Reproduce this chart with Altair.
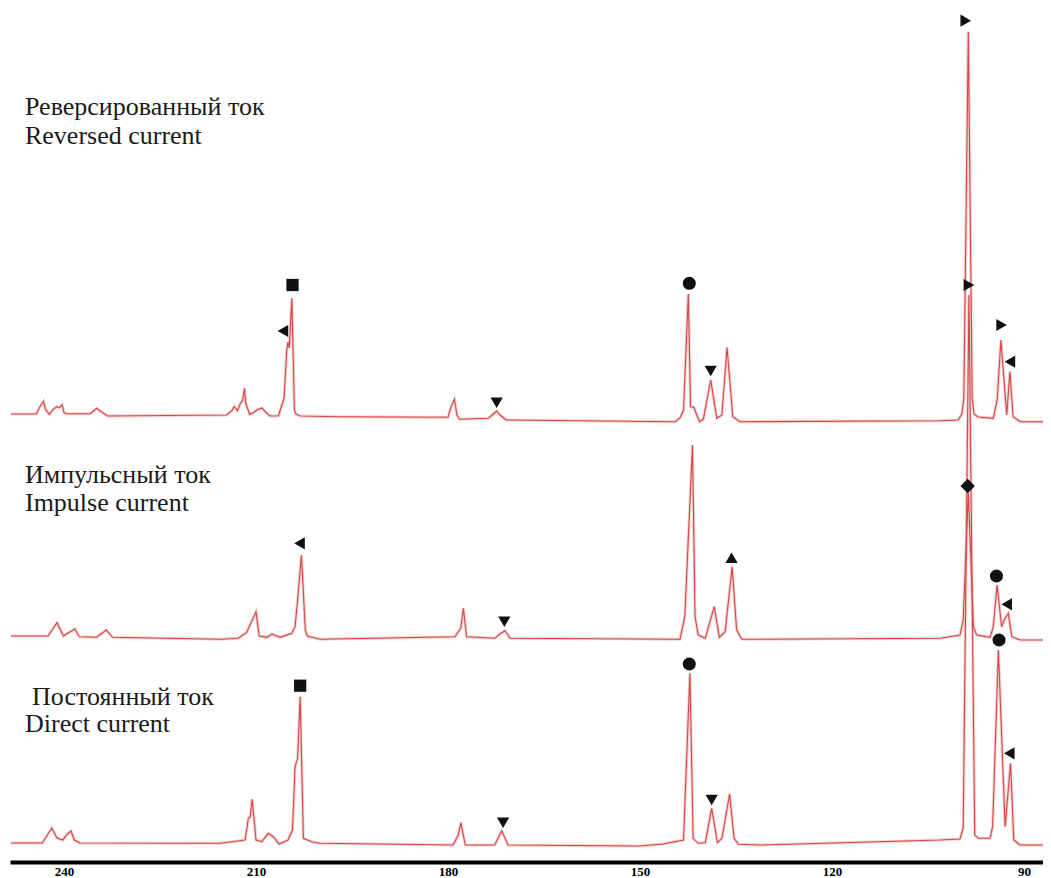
import altair as alt
import pandas as pd

# ---- spectra: x position (axis units) and intensity above each trace's own baseline ----
rev_x = [248.3, 244.3, 243.9, 243.2, 242.9, 242.3, 241.7, 241.1, 240.7, 240.3, 240.0, 239.6,
         235.9, 234.9, 234.4, 233.2, 214.6, 213.8, 213.4, 212.9, 212.4, 212.1, 211.8, 211.6,
         211.0, 210.4, 209.9, 209.1, 208.3, 207.8, 206.5, 205.7, 205.6, 205.2, 205.0, 204.8,
         204.4, 204.0, 203.75, 203.1, 196.9, 180.0, 179.6, 179.0, 178.6, 178.2, 173.7, 173.1,
         172.4, 171.7, 170.9, 144.5, 143.75, 143.2, 142.45, 142.1, 141.6, 140.7, 140.1, 138.95,
         138.0, 137.2, 136.4, 135.5, 134.4, 103.1, 100.3, 99.7, 99.4, 98.7, 98.1, 97.8, 97.2,
         94.8, 94.2, 93.6, 92.7, 92.2, 91.7, 90.6, 87.0]
rev_y = [8, 8, 13.7, 20.7, 12.7, 7.7, 12.7, 15.3, 14.3, 17.3, 9.3, 8.3,
         8.3, 13.7, 11.3, 6, 7, 11.3, 15.3, 11.3, 19.3, 21.3, 33.7, 18.7,
         7.7, 9.3, 12, 14, 8.7, 6, 6.3, 22, 25.3, 72, 80, 74,
         123.7, 12, 8, 6, 5.3, 4.7, 14, 22.7, 7, 2.7, 3.7, 7,
         11, 6, 2, 0.3, 4, 12, 128, 15.3, 14.7, 0.3, 2.7, 42,
         3.7, 7, 74.7, 5.3, 0.3, 1.3, 2, 8, 24, 390.3, 24, 8, 5,
         3.7, 22, 82, 7, 50.3, 5.3, 0.3, 0.3]

imp_x = [248.3, 242.5, 241.1, 240.1, 239.3, 238.3, 237.6, 234.9, 233.4, 232.4, 215.6, 212.8,
         211.5, 210.7, 210.0, 209.5, 208.3, 207.5, 206.25, 204.4, 203.9, 203.5, 202.9, 202.3,
         202.0, 200.0, 178.9, 178.0, 177.6, 177.1, 172.7, 171.9, 171.1, 170.3, 143.75, 143.0,
         141.8, 141.4, 140.9, 139.8, 138.4, 137.6, 136.7, 135.6, 134.9, 134.1, 103.1, 100.0,
         99.5, 98.7, 97.9, 97.4, 95.3, 94.8, 94.2, 93.5, 93.1, 92.45, 91.9, 90.6, 87.0]
imp_y = [4, 4, 17.3, 4, 7.3, 11, 3.3, 2.7, 10, 2.7, 0.7, 1.7,
         7.3, 18.3, 28.3, 4, 2.7, 6, 2.7, 6.7, 13.3, 40, 85, 10,
         4, 0.7, 3.3, 12, 31.7, 3.3, 1.7, 6, 9.3, 1.7, 0.7, 23.3,
         195, 23.3, 5, 1.7, 33.3, 2.7, 8.3, 73.3, 10, 0.7, 1.7, 5,
         20, 147, 13.3, 5, 2.7, 13.3, 55, 13.3, 20, 26.7, 3.3, 0, 0]

dir_x = [248.3, 243.4, 242.7, 241.9, 241.1, 240.2, 239.5, 238.9, 238.4, 237.5, 215.6, 211.7,
         211.2, 210.9, 210.6, 210.0, 209.1, 208.1, 207.3, 206.4, 205.0, 204.3, 203.9, 203.5,
         203.1, 202.6, 201.3, 200.0, 179.2, 178.4, 178.0, 177.3, 172.7, 171.6, 170.6, 150.0,
         146.4, 143.2, 142.2, 141.7, 140.9, 139.8, 138.8, 137.9, 137.2, 136.0, 135.3, 134.6,
         131.25, 103.1, 100.0, 99.5, 98.6, 97.7, 97.1, 95.3, 94.9, 94.0, 92.95, 92.1, 91.6,
         90.6, 87.0]
dir_y = [3, 3, 10, 18, 8, 6, 12, 15, 6, 3, 2.7, 6,
         27.7, 29.3, 46.7, 6, 4.3, 12.7, 9.3, 2, 6, 16, 79.3, 87.7,
         149.3, 7.7, 4.3, 2.7, 1, 11, 23.3, 1, 1, 15.3, 1, 0,
         2, 6, 172.7, 7.7, 2.7, 3.3, 37.7, 3.3, 7.7, 52, 7.7, 1.7,
         1, 6, 7, 18, 551, 11, 7.7, 7.7, 19.3, 196, 19.3, 82.7, 6,
         1, 1]

# vertical offsets of the stacked traces
offsets = {"rev": 440, "imp": 222, "dir": 16}

# ---- phase markers: x, height above the trace's baseline, symbol ----
rev_mk_x = [204.3, 205.8, 172.4, 142.3, 138.95, 99.1, 93.5, 92.2]
rev_mk_y = [137, 91, 19.3, 138.7, 51, 401.3, 97, 60.3]
rev_mk_s = ["square", "triangle-left", "triangle-down", "circle", "triangle-down",
            "triangle-right", "triangle-right", "triangle-left"]

imp_mk_x = [203.2, 171.2, 135.7, 98.8, 94.3, 92.7]
imp_mk_y = [96.7, 18.3, 82.3, 154, 64, 35.7]
imp_mk_s = ["triangle-left", "triangle-down", "triangle-up", "diamond", "circle", "triangle-left"]

dir_mk_x = [203.1, 171.4, 142.3, 138.8, 98.6, 93.9, 92.3]
dir_mk_y = [160.3, 23.3, 182, 46, 561, 206, 92.7]
dir_mk_s = ["square", "triangle-down", "circle", "triangle-down", "triangle-right", "circle",
            "triangle-left"]

# ---- trace labels ----
label_text = ["Реверсированный ток", "Reversed current",
              "Импульсный ток", "Impulse current",
              "Постоянный ток", "Direct current"]
label_x = [246.1, 246.1, 246.1, 246.1, 245.0, 246.1]
label_y = [755, 726, 387, 359, 165, 138]

tick_values = [240, 210, 180, 150, 120, 90]

# ---- build tables ----
rows = []
for key, xs, ys in [("rev", rev_x, rev_y), ("imp", imp_x, imp_y), ("dir", dir_x, dir_y)]:
    for i, (xv, yv) in enumerate(zip(xs, ys)):
        rows.append({"series": key, "i": i, "x": xv, "y": yv + offsets[key]})
lines_df = pd.DataFrame(rows)

size_of = {"square": 150, "circle": 170, "diamond": 210,
           "triangle-left": 150, "triangle-right": 150,
           "triangle-down": 150, "triangle-up": 150}
mrows = []
for key, xs, ys, ss in [("rev", rev_mk_x, rev_mk_y, rev_mk_s),
                        ("imp", imp_mk_x, imp_mk_y, imp_mk_s),
                        ("dir", dir_mk_x, dir_mk_y, dir_mk_s)]:
    for xv, yv, sv in zip(xs, ys, ss):
        mrows.append({"x": xv, "y": yv + offsets[key], "shape": sv, "size": size_of[sv]})
mk_df = pd.DataFrame(mrows)

lab_df = pd.DataFrame({"text": label_text, "x": label_x, "y": label_y})

xscale = alt.Scale(domain=[87.03, 248.44], reverse=True, nice=False, zero=False)
yscale = alt.Scale(domain=[0, 854], nice=False, zero=False)

xaxis = alt.Axis(values=tick_values, title=None, grid=False, ticks=False,
                 domainColor="black", domainWidth=4, labelFont="Liberation Serif",
                 labelFontWeight="bold", labelFontSize=13, labelColor="black",
                 labelPadding=3, format="d")

base_x = alt.X("x:Q", scale=xscale, axis=xaxis)
base_y = alt.Y("y:Q", scale=yscale, axis=None)

halo = alt.Chart(lines_df).mark_line(color="#ecc4c4", strokeWidth=3, opacity=0.8, clip=True).encode(
    x=base_x, y=base_y, detail="series:N", order="i:Q")
trace = alt.Chart(lines_df).mark_line(color="#d84545", strokeWidth=1.1, clip=True).encode(
    x=base_x, y=base_y, detail="series:N", order="i:Q")

markers = alt.Chart(mk_df).mark_point(filled=True, color="#111111", opacity=1).encode(
    x=base_x, y=base_y,
    shape=alt.Shape("shape:N", scale=None),
    size=alt.Size("size:Q", scale=None))

labels = alt.Chart(lab_df).mark_text(align="left", baseline="middle",
                                     font="Liberation Serif", fontSize=26,
                                     color="#1a1a1a").encode(
    x=base_x, y=base_y, text="text:N")

chart = alt.layer(halo, trace, markers, labels).properties(
    width=1033, height=854,
    padding={"left": 2, "top": 0, "right": 0, "bottom": 15},
    autosize="none",
).configure_view(strokeWidth=0)

chart.save("out.html", embed_options={"renderer": "svg", "actions": False})
